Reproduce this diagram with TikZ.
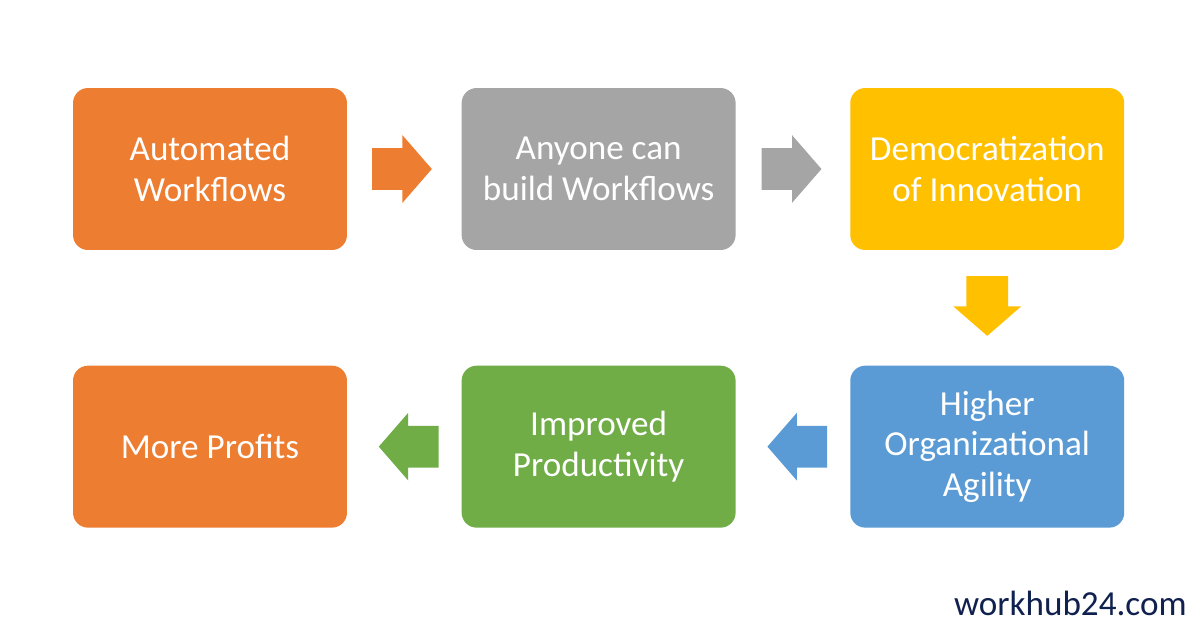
\documentclass[tikz,border=0pt]{standalone}
\usepackage{fontspec}
\setmainfont{Carlito}
\usetikzlibrary{shapes, arrows, calc, positioning}

\definecolor{boxorange}{HTML}{ED7D31}
\definecolor{boxgray}{HTML}{A5A5A5}
\definecolor{boxyellow}{HTML}{FFC000}
\definecolor{boxblue}{HTML}{5B9BD5}
\definecolor{boxgreen}{HTML}{70AD47}
\definecolor{sitenavy}{HTML}{10204F}

\begin{document}
\begin{tikzpicture}[x=0.02cm, y=-0.02cm, node distance=2.28cm]
	\tikzstyle{stage} = [rounded corners=0.3cm, minimum width=5.48cm, minimum height=3.24cm, inner sep=0pt, text=white, align=center, font=\fontsize{20}{23}\selectfont]
	\tikzstyle{flow} = [single arrow, anchor=tip, minimum width=1.34cm, minimum height=1.18cm, inner sep=0.41cm, single arrow head extend=0.26cm, single arrow tip angle=98]

	\useasboundingbox[fill=white] (0,0) rectangle (1200,637);

	% top row
	\node[stage, fill=boxorange] (auto) at (210,169) {Automated\\Workflows};
	\node[stage, fill=boxgray, right=of auto] (anyone) {Anyone can\\build Workflows};
	\node[stage, fill=boxyellow, right=of anyone] (demo) {Democratization\\of Innovation};

	% bottom row
	\node[stage, fill=boxblue, below=2.3cm of demo] (agile) {Higher\\Organizational\\Agility};
	\node[stage, fill=boxgreen, left=of agile] (prod) {Improved\\Productivity};
	\node[stage, fill=boxorange, left=of prod] (profit) {More Profits};

	% block arrows, tips set just short of the next box
	\node[flow, fill=boxorange] (a1) at ($(anyone.west)+(-29,0)$) {};
	\node[flow, fill=boxgray] (a2) at ($(demo.west)+(-28,0)$) {};
	\node[flow, fill=boxyellow, shape border rotate=270] (a3) at ($(agile.north)+(0,-29)$) {};
	\node[flow, fill=boxblue, shape border rotate=180] (a4) at ($(prod.east)+(31,0)$) {};
	\node[flow, fill=boxgreen, shape border rotate=180] (a5) at ($(profit.east)+(31,0)$) {};

	\node[anchor=base east, text=sitenavy, font=\fontsize{20}{23}\selectfont, inner sep=0pt] (site) at (1187,615) {workhub24.com};
\end{tikzpicture}
\end{document}
